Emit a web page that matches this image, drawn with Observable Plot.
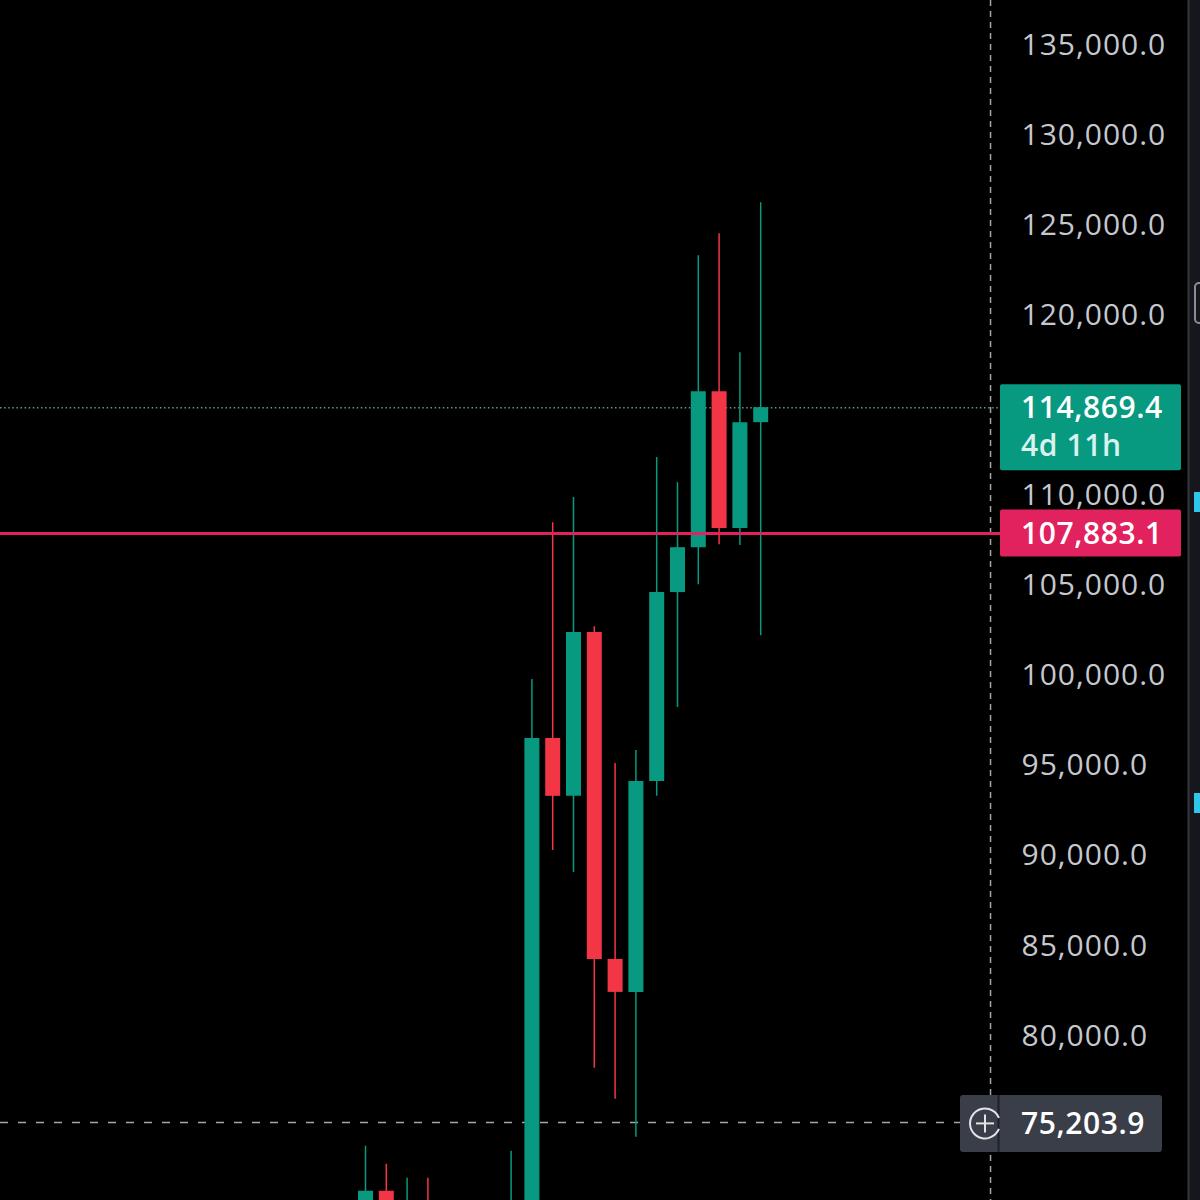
<!DOCTYPE html>
<html><head><meta charset="utf-8">
<script src="https://cdn.jsdelivr.net/npm/d3@7"></script>
<script src="https://cdn.jsdelivr.net/npm/@observablehq/plot@0.6"></script>
<style>
html,body{margin:0;padding:0;background:#000;overflow:hidden}
#chart svg{display:block}
</style>
</head><body><div id="chart"></div>
<script>
// ---- data (monthly candles; off-screen parts estimated) ----
const months = ["2024-03","2024-04","2024-05","2024-06","2024-07","2024-08","2024-09","2024-10","2024-11","2024-12",
                "2025-01","2025-02","2025-03","2025-04","2025-05","2025-06","2025-07","2025-08","2025-09","2025-10"];
const opens  = [61100, 71390, 60700, 67500, 62700, 64600, 58900, 63300, 70200, 96510,
                93300, 102390, 84250, 82420, 94130, 104610, 107100, 115760, 108160, 114040];
const highs  = [73880, 72880, 72100, 72100, 70000, 65000, 66500, 73600, 99780, 108490,
                109880, 102720, 95120, 95850, 112100, 110710, 123300, 124520, 117920, 126240];
const lows   = [59300, 56500, 56600, 58400, 53500, 49000, 52500, 58900, 66800, 90300,
                89080, 78210, 76490, 74380, 93300, 98230, 105050, 107270, 107220, 102220];
const closes = [71390, 60700, 67500, 62700, 64600, 58900, 63300, 70200, 96510, 93300,
                102390, 84250, 82420, 94130, 104610, 107100, 115760, 108160, 114040, 114869.4];
// visible price-scale labels (115,000.0 is hidden behind the last-price box in the reference)
const yTicks = [80000, 85000, 90000, 95000, 100000, 105000, 110000, 120000, 125000, 130000, 135000];
const lastPrice = 114869.4;
const countdown = "4d 11h";
const refPrice = 107883.1;
const crosshairPrice = 75203.9;
const crosshairIndex = 30.05;

const UP = "#089981", DOWN = "#f23645", REF = "#e2215f";
const candles = months.map((m, i) => ({
  i, month: m, o: opens[i], h: highs[i], l: lows[i], c: closes[i],
  color: closes[i] >= opens[i] ? UP : DOWN
}));
const fmt = d3.format(",.1f");

const chart = Plot.plot({
  width: 1200,
  height: 1200,
  marginTop: 0, marginBottom: 0, marginLeft: 0, marginRight: 200,
  style: {background: "#000", fontFamily: "'Open Sans', sans-serif", letterSpacing: "1px", color: "#c5c8cf"},
  x: {type: "linear", domain: [-17.548, 30.529], axis: null},
  y: {type: "linear", domain: [70870, 137470], axis: null},
  marks: [
    Plot.axisY(yTicks, {anchor: "right", tickSize: 0, tickPadding: 21, tickFormat: fmt,
      fontSize: 30, color: "#c5c8cf", label: null}),
    Plot.ruleY([lastPrice], {stroke: "#6d918a", strokeWidth: 1.5, strokeDasharray: "1.5,2.6"}),
    Plot.ruleY([crosshairPrice], {stroke: "#a3a6ad", strokeWidth: 1.5, strokeDasharray: "8,10"}),
    Plot.ruleX([crosshairIndex], {stroke: "#a3a6ad", strokeWidth: 1.5, strokeDasharray: "6,5"}),
    Plot.ruleX(candles, {x: "i", y1: "l", y2: "h", stroke: "color", strokeWidth: 1.5, clip: true}),
    Plot.ruleX(candles, {x: "i", y1: "o", y2: "c", stroke: "color", strokeWidth: 15, strokeLinecap: "butt", clip: true}),
    Plot.ruleY([refPrice], {stroke: REF, strokeWidth: 3})
  ]
});
document.getElementById("chart").appendChild(chart);

// ---- price-scale labels (positioned with the plot's own y scale) ----
const ys = chart.scale("y");
const svg = d3.select(chart);
const g = svg.append("g").attr("font-family", "'Open Sans', sans-serif").attr("text-anchor", "start");

// right-hand side strip
g.append("rect").attr("x", 1188).attr("y", 0).attr("width", 12).attr("height", 1200).attr("fill", "#15171c");
g.append("line").attr("x1", 1188.5).attr("x2", 1188.5).attr("y1", 0).attr("y2", 1200).attr("stroke", "#33363e").attr("stroke-width", 2);
g.append("rect").attr("x", 1195).attr("y", 283).attr("width", 12).attr("height", 40).attr("rx", 4)
  .attr("fill", "none").attr("stroke", "#8a8d94").attr("stroke-width", 2);
g.append("rect").attr("x", 1194).attr("y", 492).attr("width", 6).attr("height", 20).attr("fill", "#2ec7ea");
g.append("rect").attr("x", 1194).attr("y", 793).attr("width", 6).attr("height", 20).attr("fill", "#2ec7ea");

function label(x, y, txt, fill) {
  g.append("text").attr("x", x).attr("y", y).attr("dy", "0.36em").attr("font-size", 30).attr("font-weight", 600)
    .attr("letter-spacing", "0.6px").attr("text-anchor", "start").attr("fill", fill).text(txt);
}

// last price box
const yl = ys.apply(lastPrice);
g.append("rect").attr("x", 1000).attr("y", yl - 23).attr("width", 181).attr("height", 86).attr("rx", 2).attr("fill", UP);
label(1021, yl, fmt(lastPrice), "#ffffff");
label(1021, yl + 38, countdown, "#d8f3ee");

// reference line box
const yr = ys.apply(refPrice);
g.append("rect").attr("x", 1000).attr("y", yr - 23.5).attr("width", 181).attr("height", 47).attr("rx", 2).attr("fill", REF);
label(1021, yr, fmt(refPrice), "#ffffff");

// crosshair box
const yc = ys.apply(crosshairPrice);
g.append("rect").attr("x", 960).attr("y", yc - 27).attr("width", 202).attr("height", 57).attr("rx", 3).attr("fill", "#3a3e49");
g.append("line").attr("x1", 998.5).attr("x2", 998.5).attr("y1", yc - 27).attr("y2", yc + 30).attr("stroke", "#1e2027").attr("stroke-width", 2);
g.append("path").attr("d", d3.arc()({innerRadius: 14, outerRadius: 16, startAngle: Math.PI * 0.62, endAngle: Math.PI * 2.38}))
  .attr("transform", `translate(985,${yc + 1.5})`).attr("fill", "#e4e4e6");
g.append("line").attr("x1", 976).attr("x2", 994).attr("y1", yc + 1.5).attr("y2", yc + 1.5).attr("stroke", "#e4e4e6").attr("stroke-width", 2);
g.append("line").attr("x1", 985).attr("x2", 985).attr("y1", yc - 7.5).attr("y2", yc + 10.5).attr("stroke", "#e4e4e6").attr("stroke-width", 2);
label(1021, yc + 1, fmt(crosshairPrice), "#ffffff");
</script>
</body></html>
